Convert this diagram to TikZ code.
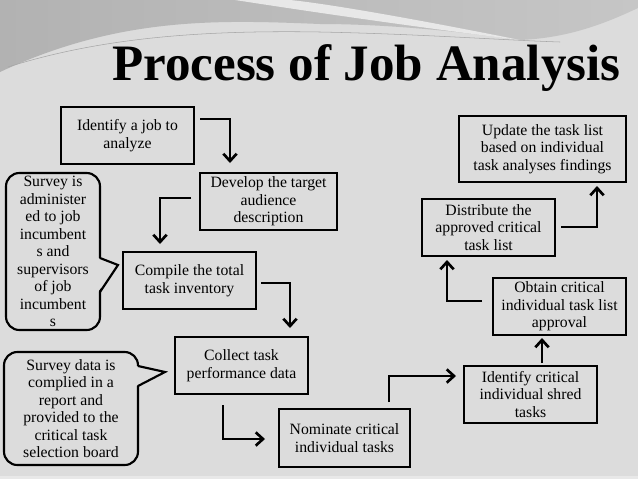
\documentclass[tikz,border=0pt]{standalone}
\usepackage{fontspec}
\setmainfont{Liberation Serif}
\usetikzlibrary{arrows.meta}
\definecolor{bg}{HTML}{DCDCDC}
\definecolor{swdark}{HTML}{B2B2B2}
\definecolor{swlight}{HTML}{C6C6C6}
\definecolor{stripe}{HTML}{E8E8E8}
\begin{document}
\begin{tikzpicture}[x=0.75pt,y=-0.75pt,
  box/.style={draw=black, line width=1.6pt, fill=bg, align=center, inner sep=0pt,
    font=\fontsize{11.8}{13.1}\selectfont},
  callout/.style={box, rounded corners=10pt},
  arr/.style={line width=2.2pt, -{Straight Barb[length=5.5pt,width=10pt,line width=2pt]}},
  ptr/.style={line width=1.6pt, line join=miter},
]
\useasboundingbox (0,0) rectangle (638,479);
% background
\fill[bg] (0,0) rectangle (638,479);
\fill[stripe] (0,476) rectangle (638,479);
\shade[left color=swdark, right color=swlight]
  (0,0) -- (638,0) -- (638,8) .. controls (600,26) and (565,38) .. (520,40)
  .. controls (450,30) and (380,24) .. (320,24)
  .. controls (220,20) and (120,16) .. (0,72) -- cycle;
\fill[stripe] (235,0) .. controls (300,10) and (400,25) .. (520,40)
  .. controls (420,20) and (330,4) .. (290,0) -- cycle;
\draw[gray!70, line width=0.4pt] (8,67) .. controls (100,38) and (200,30) .. (320,32)
  .. controls (420,34) and (500,40) .. (560,42);
% title
\node[anchor=base west, inner sep=0pt, font=\fontsize{38.3}{40}\selectfont\bfseries]
  (title) at (112,80) {Process of Job Analysis};
% boxes
\node[box, minimum width=99.75pt, minimum height=42.75pt] (n1) at (127.5,135.5) {Identify a job to\\analyze};
\node[box, minimum width=102.75pt, minimum height=42.75pt] (n2) at (268.5,201.5) {Develop the target\\audience\\description};
\node[box, minimum width=99.75pt, minimum height=42.75pt] (n3) at (189.5,280.5) {Compile the total\\task inventory};
\node[box, minimum width=99.75pt, minimum height=42.75pt] (n4) at (241.5,365.5) {Collect task\\performance data};
\node[box, minimum width=98.25pt, minimum height=43.5pt] (n5) at (344.5,438) {Nominate critical\\individual tasks};
\node[box, minimum width=99.75pt, minimum height=42.75pt] (n6) at (530.5,394.5) {Identify critical\\individual shred\\tasks};
\node[box, minimum width=99.75pt, minimum height=42.75pt] (n7) at (559.5,306.5) {Obtain critical\\individual task list\\approval};
\node[box, minimum width=99.75pt, minimum height=42.75pt] (n8) at (488.5,227.5) {Distribute the\\approved critical\\task list};
\node[box, minimum width=125.25pt, minimum height=49.5pt] (n9) at (542.5,149) {Update the task list\\based on individual\\task analyses findings};
% callouts
\node[callout, minimum width=70.5pt, minimum height=117.75pt] (c1) at (53,251.5)
  {Survey is\\administer\\ed to job\\incumbent\\s and\\supervisors\\of job\\incumbent\\s};
\node[callout, minimum width=100.5pt, minimum height=84.75pt] (c2) at (71,408.5)
  {Survey data is\\complied in a\\report and\\provided to the\\critical task\\selection board};
\coordinate (c1a) at (100,258);
\coordinate (c1t) at (118,265);
\coordinate (c1b) at (100,292);
\fill[bg] (98,258) -- (c1t) -- (98,292) -- cycle;
\draw[ptr] (c1a) -- (c1t) -- (c1b);
\coordinate (c2a) at (138,366);
\coordinate (c2t) at (165,372);
\coordinate (c2b) at (138,386);
\fill[bg] (136,366) -- (c2t) -- (136,386) -- cycle;
\draw[ptr] (c2a) -- (c2t) -- (c2b);
% arrow ends
\coordinate (a1s) at (200,119); \coordinate (a1e) at (230,163);
\coordinate (a2s) at (191,198); \coordinate (a2e) at (160,244);
\coordinate (a3s) at (261,283); \coordinate (a3e) at (290,328);
\coordinate (a4s) at (223,405); \coordinate (a4e) at (265,439);
\coordinate (a5s) at (389,402); \coordinate (a5e) at (456,376);
\coordinate (a6s) at (542,363); \coordinate (a6e) at (542,338);
\coordinate (a7s) at (482,301); \coordinate (a7e) at (447,260);
\coordinate (a8s) at (561,227); \coordinate (a8e) at (597,186);
\draw[arr] (a1s) -| (a1e);
\draw[arr] (a2s) -| (a2e);
\draw[arr] (a3s) -| (a3e);
\draw[arr] (a4s) |- (a4e);
\draw[arr] (a5s) |- (a5e);
\draw[arr] (a6s) -- (a6e);
\draw[arr] (a7s) -| (a7e);
\draw[arr] (a8s) -| (a8e);
\end{tikzpicture}
\end{document}
